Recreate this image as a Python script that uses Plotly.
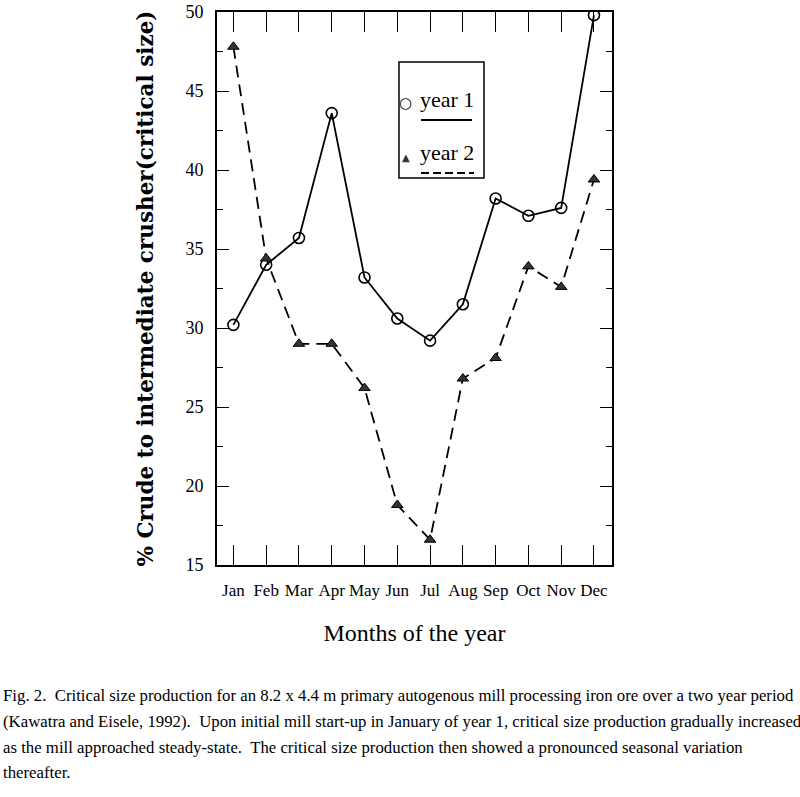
import plotly.graph_objects as go

months = ["Jan", "Feb", "Mar", "Apr", "May", "Jun", "Jul", "Aug", "Sep", "Oct", "Nov", "Dec"]
year1 = [30.2, 34.0, 35.7, 43.6, 33.2, 30.6, 29.2, 31.5, 38.2, 37.1, 37.6, 49.8]
year2 = [47.8, 34.4, 29.0, 29.0, 26.2, 18.8, 16.6, 26.8, 28.1, 33.9, 32.6, 39.4]
y_ticks = [15, 20, 25, 30, 35, 40, 45, 50]
caption_lines = [
    "Fig. 2.  Critical size production for an 8.2 x 4.4 m primary autogenous mill processing iron ore over a two year period",
    "(Kawatra and Eisele, 1992).  Upon initial mill start-up in January of year 1, critical size production gradually increased",
    "as the mill approached steady-state.  The critical size production then showed a pronounced seasonal variation",
    "thereafter.",
]

W, H = 800, 797
L, R, T, B = 217, 612, 12, 565


def px(x):
    return (x - L) / (R - L)


def py(y):
    return (B - y) / (B - T)


SERIF = "Liberation Serif, Times New Roman, serif"

fig = go.Figure()
fig.add_trace(go.Scatter(
    x=months, y=year1, mode="lines+markers", name="year 1",
    line=dict(color="black", width=1.8),
    marker=dict(symbol="circle-open", size=11, color="black", line=dict(width=1.6)),
))
fig.add_trace(go.Scatter(
    x=months, y=year2, mode="lines+markers", name="year 2",
    line=dict(color="black", width=1.8, dash="12px,7px"),
    marker=dict(symbol="triangle-up", size=10, color="#333333", line=dict(color="black", width=1)),
))

fig.update_layout(
    width=W, height=H,
    margin=dict(l=L, r=W - R, t=T, b=H - B, autoexpand=False),
    paper_bgcolor="white", plot_bgcolor="white",
    showlegend=False,
    font=dict(family=SERIF, color="black"),
)
fig.update_xaxes(
    type="category", range=[-0.5, 11.55],
    showgrid=False, zeroline=False,
    showline=True, linewidth=2, linecolor="black", mirror="ticks",
    ticks="inside", ticklen=20, tickwidth=1.3, tickcolor="black",
    tickfont=dict(family=SERIF, size=17),
    ticklabelstandoff=9,
    title=dict(text="Months of the year", font=dict(family=SERIF, size=24), standoff=25),
)
fig.update_yaxes(
    range=[15, 50], tickvals=y_ticks,
    showgrid=False, zeroline=False,
    showline=True, linewidth=2, linecolor="black", mirror="ticks",
    ticks="inside", ticklen=12, tickwidth=1.3, tickcolor="black",
    minor=dict(dtick=2.5, tick0=15, ticks="inside", ticklen=6, tickwidth=1.2, tickcolor="black"),
    tickfont=dict(family=SERIF, size=18),
    ticklabelstandoff=8,
    title=dict(text="% Crude to intermediate crusher(critical size)",
               font=dict(family="DejaVu Serif", size=21.5, weight="bold"), standoff=26),
)

# custom legend
fig.add_shape(type="rect", xref="paper", yref="paper",
              x0=px(399), x1=px(484), y0=py(178), y1=py(62),
              line=dict(color="black", width=1.5), fillcolor="white", layer="above")
fig.add_shape(type="line", xref="paper", yref="paper",
              x0=px(421), x1=px(472), y0=py(120), y1=py(120),
              line=dict(color="black", width=2))
fig.add_shape(type="line", xref="paper", yref="paper",
              x0=px(421), x1=px(474), y0=py(173), y1=py(173),
              line=dict(color="black", width=2, dash="8px,4px"))
fig.add_annotation(xref="paper", yref="paper", x=px(405), y=py(103), text="○",
                   showarrow=False, font=dict(family="DejaVu Sans", size=15), xanchor="center", yanchor="middle")
fig.add_annotation(xref="paper", yref="paper", x=px(406), y=py(157), text="▲",
                   showarrow=False, font=dict(family="DejaVu Sans", size=10, color="#333333"), xanchor="center", yanchor="middle")
fig.add_annotation(xref="paper", yref="paper", x=px(418), y=py(100), text="year 1",
                   showarrow=False, font=dict(family=SERIF, size=22), xanchor="left", yanchor="middle")
fig.add_annotation(xref="paper", yref="paper", x=px(418), y=py(153), text="year 2",
                   showarrow=False, font=dict(family=SERIF, size=22), xanchor="left", yanchor="middle")

# caption
cap_y = [695, 721, 747, 772]
for line, yy in zip(caption_lines, cap_y):
    fig.add_annotation(xref="paper", yref="paper", x=px(1), y=py(yy), text=line,
                       showarrow=False, font=dict(family=SERIF, size=16.8),
                       xanchor="left", yanchor="middle")

fig.write_html("out.html", config={"displayModeBar": False},
               post_script="document.body.style.margin='0';")
